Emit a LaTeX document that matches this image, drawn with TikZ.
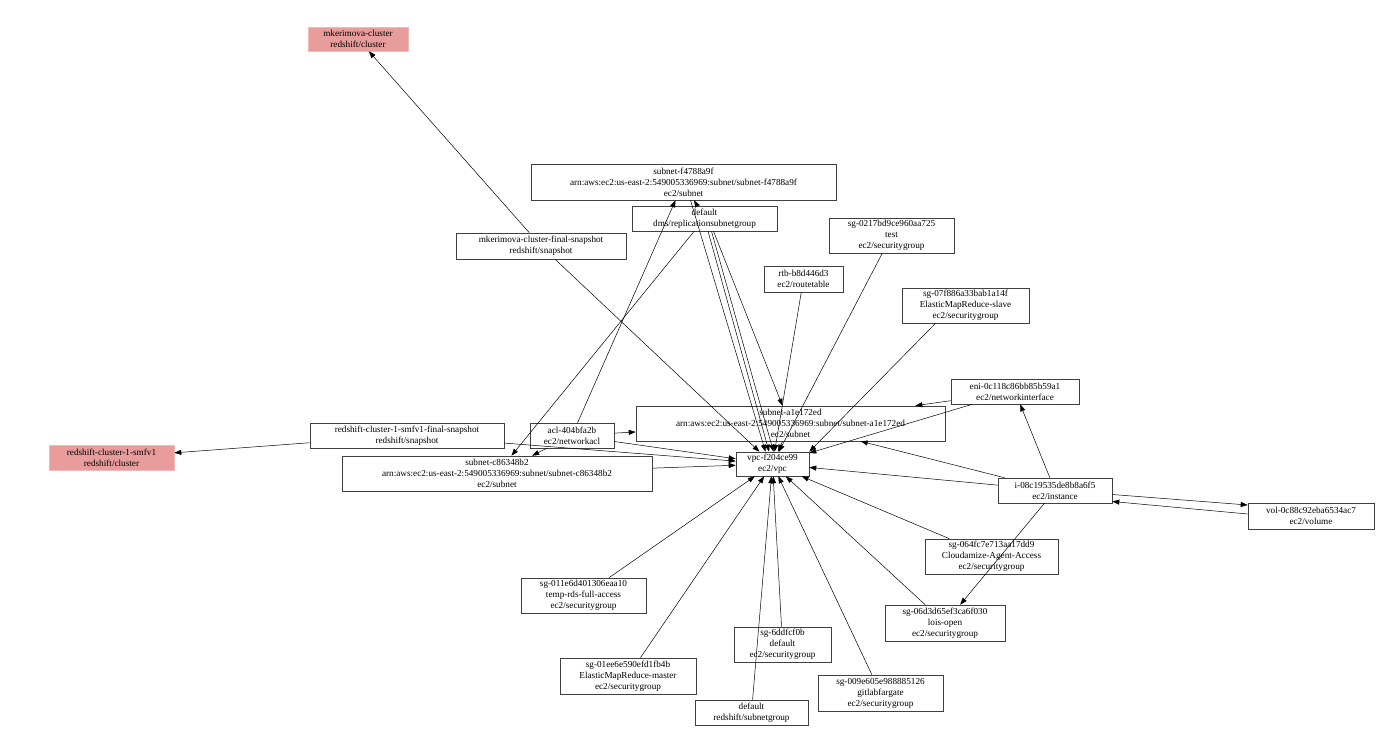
\documentclass[tikz,border=0pt]{standalone}
\usepackage{fontspec}
\setmainfont{Liberation Serif}
\usetikzlibrary{arrows.meta}
\definecolor{clusterpink}{RGB}{232,156,156}
\definecolor{clusteredge}{RGB}{240,186,186}

\begin{document}
\begin{tikzpicture}[x=10pt,y=10pt,
  res/.style={draw=black!75, line width=0.6pt, align=center, inner sep=0pt, font=\fontsize{9.2}{11}\selectfont},
  cluster/.style={res, fill=clusterpink, draw=clusteredge},
  link/.style={draw=black, line width=0.5pt, -{Triangle[length=7pt,width=5pt]}}]
\useasboundingbox (0,0) rectangle (137.9,-74.9);
% redshift
\node [cluster, minimum width=100pt, minimum height=24pt] (mcluster) at (35.8,-3.9) {mkerimova-cluster\\redshift/cluster};
\node [res, minimum width=170pt, minimum height=26pt] (msnap) at (54.1,-24.6) {mkerimova-cluster-final-snapshot\\redshift/snapshot};
\node [cluster, minimum width=125pt, minimum height=25pt] (rcluster) at (11.15,-45.75) {redshift-cluster-1-smfv1\\redshift/cluster};
\node [res, minimum width=194pt, minimum height=25pt] (rsnap) at (40.7,-43.55) {redshift-cluster-1-smfv1-final-snapshot\\redshift/snapshot};
\node [res, minimum width=113pt, minimum height=25pt] (rsgrp) at (75.15,-71.25) {default\\redshift/subnetgroup};
% subnets and vpc
\node [res, minimum width=305pt, minimum height=36pt] (subf) at (68.35,-18.2) {subnet-f4788a9f\\arn:aws:ec2:us-east-2:549005336969:subnet/subnet-f4788a9f\\ec2/subnet};
\node [res, minimum width=145pt, minimum height=25pt] (dmsgrp) at (70.45,-21.85) {default\\dms/replicationsubnetgroup};
\node [res, minimum width=309pt, minimum height=35pt] (suba) at (79.05,-42.35) {subnet-a1e172ed\\arn:aws:ec2:us-east-2:549005336969:subnet/subnet-a1e172ed\\ec2/subnet};
\node [res, minimum width=310pt, minimum height=35pt] (subc) at (49.7,-47.35) {subnet-c86348b2\\arn:aws:ec2:us-east-2:549005336969:subnet/subnet-c86348b2\\ec2/subnet};
\node [res, minimum width=84pt, minimum height=25pt] (acl) at (57.2,-43.55) {acl-404bfa2b\\ec2/networkacl};
\node [res, minimum width=79pt, minimum height=26pt] (rtb) at (80.35,-27.9) {rtb-b8d446d3\\ec2/routetable};
\node [res, minimum width=73pt, minimum height=24pt] (vpc) at (77.25,-46.4) {vpc-f204ce99\\ec2/vpc};
% instance side
\node [res, minimum width=128pt, minimum height=25pt] (eni) at (101.5,-39.15) {eni-0c118c86bb85b59a1\\ec2/networkinterface};
\node [res, minimum width=114pt, minimum height=25pt] (inst) at (105.5,-49.05) {i-08c19535de8b8a6f5\\ec2/instance};
\node [res, minimum width=126pt, minimum height=26pt] (vol) at (131.1,-51.6) {vol-0c88c92eba6534ac7\\ec2/volume};
% security groups
\node [res, minimum width=125pt, minimum height=35pt] (sgtest) at (89.15,-23.55) {sg-0217bd9ce960aa725\\test\\ec2/securitygroup};
\node [res, minimum width=127pt, minimum height=35pt] (sgslave) at (96.55,-30.55) {sg-07f886a33bab1a14f\\ElasticMapReduce-slave\\ec2/securitygroup};
\node [res, minimum width=133pt, minimum height=35pt] (sgcloud) at (99.15,-55.65) {sg-064fc7e713aa17dd9\\Cloudamize-Agent-Access\\ec2/securitygroup};
\node [res, minimum width=120pt, minimum height=36pt] (sglois) at (94.5,-62.3) {sg-06d3d65ef3ca6f030\\lois-open\\ec2/securitygroup};
\node [res, minimum width=125pt, minimum height=35pt] (sgrds) at (58.35,-59.55) {sg-011e6d401306eaa10\\temp-rds-full-access\\ec2/securitygroup};
\node [res, minimum width=97pt, minimum height=35pt] (sgdef) at (78.25,-64.45) {sg-6ddfcf0b\\default\\ec2/securitygroup};
\node [res, minimum width=136pt, minimum height=36pt] (sgmaster) at (62.8,-67.6) {sg-01ee6e590efd1fb4b\\ElasticMapReduce-master\\ec2/securitygroup};
\node [res, minimum width=125pt, minimum height=36pt] (sggitlab) at (88.05,-69.3) {sg-009e605e988885126\\gitlabfargate\\ec2/securitygroup};
% links
\draw [link] (msnap) -- (mcluster);
\draw [link] (msnap) -- (vpc);
\draw [link] (rsnap) -- (rcluster);
\draw [link] (rsnap) -- (vpc);
\draw [link] (rsgrp) -- (vpc);
\draw [link] (acl) -- (subf);
\draw [link] (acl) -- (suba);
\draw [link] (acl) -- (subc);
\draw [link] (acl) -- (vpc);
\draw [link] (dmsgrp) -- (subf);
\draw [link] (dmsgrp) -- (subc);
\draw [link] (dmsgrp) -- (vpc);
\draw [link] ([xshift=7pt]dmsgrp.south) -- ([xshift=1pt]vpc.north);
\draw [link] ([xshift=9pt]dmsgrp.south) -- ([xshift=-8pt]suba.north);
\draw [link] ([xshift=7pt]subf.south) -- ([xshift=-7pt]vpc.north);
\draw [link] (suba) -- (vpc);
\draw [link] (subc) -- (vpc);
\draw [link] (rtb) -- (vpc);
\draw [link] (sgtest) -- (vpc);
\draw [link] ([xshift=-30pt]sgslave.south) -- (vpc.north east);
\draw [link] (eni) -- (suba);
\draw [link] (eni) -- (vpc);
\draw [link] (inst) -- (vpc);
\draw [link] (inst) -- (suba);
\draw [link] (inst) -- (eni);
\draw [link] ([yshift=-4pt]inst.east) -- ([yshift=11pt]vol.west);
\draw [link] ([yshift=2pt]vol.west) -- ([yshift=-11pt]inst.east);
\draw [link] (inst) -- (sglois);
\draw [link] (sgcloud) -- (vpc);
\draw [link] (sglois) -- (vpc);
\draw [link] (sgrds) -- (vpc);
\draw [link] (sgmaster) -- (vpc);
\draw [link] (sgdef) -- (vpc);
\draw [link] (sggitlab) -- (vpc);
\end{tikzpicture}
\end{document}
